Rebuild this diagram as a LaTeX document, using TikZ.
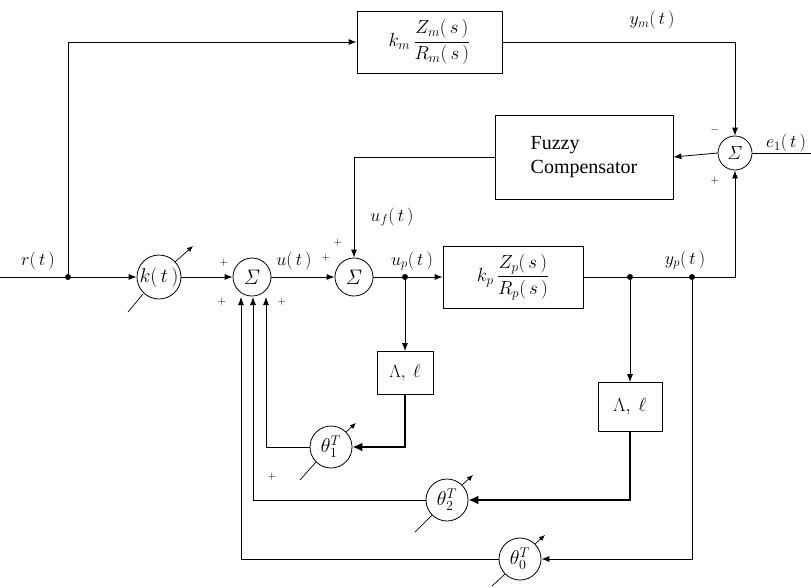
\documentclass[tikz,border=0pt]{standalone}
\usepackage{fix-cm}
\usepackage[no-math]{fontspec}
\setmainfont{Liberation Serif}
\usetikzlibrary{arrows.meta,calc}
\tikzset{
  every node/.style={font=\fontsize{18}{20}\selectfont},
  wire/.style={line width=0.8pt},
  thick wire/.style={line width=2.6pt},
  arr/.style={-{Latex[length=8pt,width=6pt]}},
  big arr/.style={-{Latex[length=10pt,width=9pt]}},
  sumnode/.style={circle,draw,fill=white,line width=0.8pt,minimum size=38pt,inner sep=0pt,font=\fontsize{21}{23}\selectfont},
  gainnode/.style={circle,draw,fill=white,line width=0.8pt,minimum size=42pt,inner sep=0pt,font=\fontsize{20}{22}\selectfont},
  blockbox/.style={draw,line width=0.8pt,inner sep=0pt},
  dotnode/.style={circle,fill,inner sep=0pt,minimum size=6pt},
  sign/.style={font=\fontsize{11}{12}\selectfont,inner sep=0pt},
  lbl/.style={inner sep=0pt},
  tune/.style={line width=0.7pt},
  tunearr/.style={line width=0.7pt,-{Latex[length=6pt,width=5pt]}}
}
\begin{document}
\begin{tikzpicture}[x=1pt,y=-1pt]
\useasboundingbox (0,0) rectangle (811,587);

% nodes
\coordinate (in) at (0,277);
\node[dotnode] (split) at (68,277) {};
\node[gainnode,minimum size=44pt] (k) at (159,277) {$k(\,t\,)$};
\node[sumnode] (s1) at (252,277) {$\mathit{\Sigma}$};
\node[sumnode] (s2) at (354,277) {$\mathit{\Sigma}$};
\node[dotnode] (up) at (405,277) {};
\node[blockbox,minimum width=140pt,minimum height=62pt,font=\fontsize{19}{21}\selectfont] (Kp) at (513,277)
  {$\displaystyle k_p\,\frac{Z_p(\,s\,)}{R_p(\,s\,)}$};
\node[dotnode] (yp1) at (630,277) {};
\node[dotnode] (yp2) at (692,277) {};
\node[sumnode,minimum size=34pt,font=\fontsize{19}{21}\selectfont] (s3) at (735,153) {$\mathit{\Sigma}$};
\coordinate (out) at (811,153);
\node[blockbox,minimum width=145pt,minimum height=62pt,font=\fontsize{19}{21}\selectfont] (Km) at (429.5,42)
  {$\displaystyle k_m\,\frac{Z_m(\,s\,)}{R_m(\,s\,)}$};
\node[blockbox,minimum width=178pt,minimum height=84pt,align=left,font=\fontsize{20}{24}\selectfont] (fz) at (584,157)
  {Fuzzy\\Compensator};
\node[blockbox,minimum width=56pt,minimum height=43pt,font=\fontsize{18}{20}\selectfont] (L1) at (405,373) {$\Lambda,\ \ell$};
\node[blockbox,minimum width=64pt,minimum height=49pt,font=\fontsize{19}{21}\selectfont] (L2) at (630,407) {$\Lambda,\ \ell$};
\node[gainnode] (t1) at (331,447) {$\theta^T_1$};
\node[gainnode] (t2) at (447,500) {$\theta^T_2$};
\node[gainnode] (t0) at (520,559) {$\theta^T_0$};

% adjustable-gain arrows, split at the circle edge
\draw[tune] ($(k)+(-31,35)$) -- ($(k)+(-16,17)$);
\draw[tunearr] ($(k)+(16,-15)$) -- ($(k)+(34,-31)$);
\draw[tune] ($(t1)+(-31,33)$) -- ($(t1)+(-15,15)$);
\draw[tunearr] ($(t1)+(15,-15)$) -- ($(t1)+(25,-24)$);
\draw[tune] ($(t2)+(-32,32)$) -- ($(t2)+(-15,15)$);
\draw[tunearr] ($(t2)+(15,-15)$) -- ($(t2)+(26,-25)$);
\draw[tune] ($(t0)+(-28,27)$) -- ($(t0)+(-15,15)$);
\draw[tunearr] ($(t0)+(15,-15)$) -- ($(t0)+(25,-24)$);

\coordinate (a0) at (241,297);
\coordinate (a2) at (253,297);
\coordinate (a1) at (266,297);

% forward path
\draw[wire] (in) -- (split);
\draw[wire,arr] (split) -- (k);
\draw[wire,arr] (split) |- (Km.west);
\draw[wire,arr] (k) -- (s1);
\draw[wire,arr] (s1) -- (s2);
\draw[wire] (s2) -- (up);
\draw[wire,arr] (up) -- (Kp.west);
\draw[wire] (Kp.east) -- (yp1) -- (yp2);
\draw[wire,arr] (yp2) -| (s3.south);
\draw[wire,arr] (Km.east) -| (s3.north);
\draw[wire,arr] (s3.west) -- (fz.east);
\draw[wire] (s3.east) -- (out);
\draw[wire,arr] (fz.west) -| (s2.north);

% feedback paths
\draw[wire,arr] (up) -- (L1.north);
\draw[thick wire,big arr] (L1.south) |- (t1.east);
\draw[wire,arr] (t1.west) -| (a1);
\draw[wire,arr] (yp1) -- (L2.north);
\draw[thick wire,big arr] (L2.south) |- (t2.east);
\draw[wire,arr] (t2.west) -| (a2);
\draw[wire,arr] (yp2) |- (t0.east);
\draw[wire,arr] (t0.west) -| (a0);

% labels
\node[lbl] (lr) at (38,261) {$r(\,t\,)$};
\node[lbl] (lu) at (294,261) {$u(\,t\,)$};
\node[lbl] (luf) at (392,217) {$u_f(\,t\,)$};
\node[lbl] (lup) at (412,261) {$u_p(\,t\,)$};
\node[lbl] (lyp) at (685,260) {$y_p(\,t\,)$};
\node[lbl] (lym) at (652,20) {$y_m(\,t\,)$};
\node[lbl] (le) at (786,143) {$e_1(\,t\,)$};

% signs
\node[sign] at (224,263) {$+$};
\node[sign] at (222,302) {$+$};
\node[sign] at (282,302) {$+$};
\node[sign] at (326,258) {$+$};
\node[sign] at (338,243) {$+$};
\node[sign] at (715,130) {$-$};
\node[sign] at (715,181) {$+$};
\node[sign] at (272,477) {$+$};
\end{tikzpicture}
\end{document}
